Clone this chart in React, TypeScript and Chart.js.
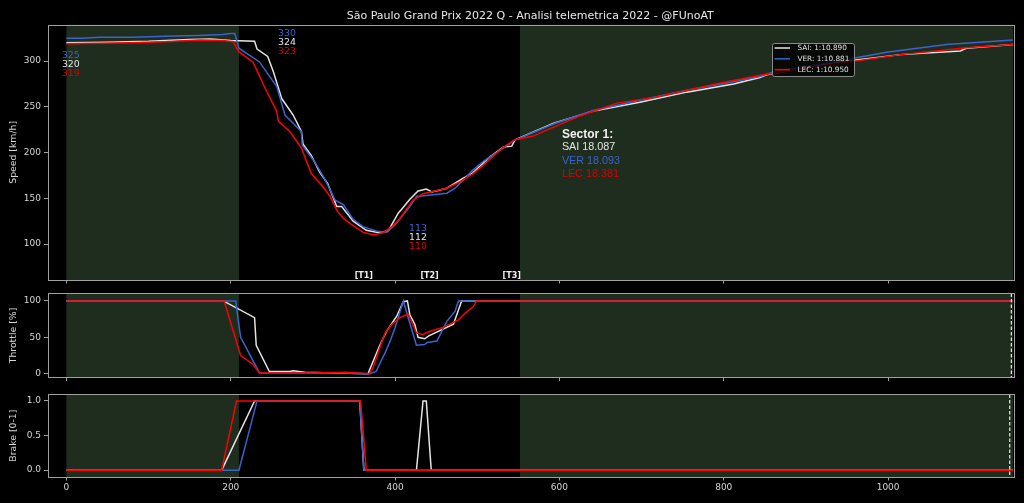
import React, { useEffect, useRef } from 'react';
import { Chart, registerables } from 'chart.js';
Chart.register(...registerables);

// ---------------- data ----------------
const drivers = ['SAI', 'VER', 'LEC'];
const lapTimes = ['1:10.890', '1:10.881', '1:10.950'];
const sector1Times = ['18.087', '18.093', '18.381'];
const titleText = 'São Paulo Grand Prix 2022 Q - Analisi telemetrica 2022 - @FUnoAT';
const sectorTitle = 'Sector 1:';
const cornerLabels = ['[T1]', '[T2]', '[T3]'];
const cornerDistances = [362, 442, 542];
const labelOrder = ['VER', 'SAI', 'LEC'];
const startSpeedLabels = [325, 320, 319];
const maxSpeedLabels = [330, 324, 323];
const minSpeedLabels = [113, 112, 110];
const shadedSectors = [[0, 210], [552, 1152]];
const lapEndDistances = [1150, 1148];
const xTicks = [0, 200, 400, 600, 800, 1000];
const speedTicks = [100, 150, 200, 250, 300];
const throttleTicks = [0, 50, 100];
const brakeTicks = [0, 0.5, 1];
const yLabels = ['Speed [km/h]', 'Throttle [%]', 'Brake [0-1]'];

const saiSpeed = [[0,320],[50,320.5],[100,321.5],[150,323.5],[175,324],[200,322.5],[229,321.5],[232,313],[245,305],[252,288],[262,259],[276,241],[286,223],[288,209],[298,197],[308,179],[318,166],[329,141],[335,141],[349,125],[365,115],[382,112],[392,115],[404,134],[408,138],[418,149],[428,158],[438,160],[445,157],[463,161],[483,172],[495,178],[515,195],[532,206],[542,207],[546,214],[593,232],[640,245],[698,255],[755,266],[812,275],[844,282],[852,285],[933,298],[1015,307],[1088,311],[1095,314],[1152,318]];
const verSpeed = [[0,325],[20,325],[40,326],[80,326],[120,327],[160,328],[190,329],[200,330],[205,330],[210,314],[235,299],[256,272],[266,241],[286,223],[287,208],[302,190],[315,170],[327,148],[337,143],[349,127],[361,119],[378,114],[390,113],[400,121],[418,141],[426,152],[438,153],[463,155.5],[473,161],[495,181],[507,190],[532,205],[546,214],[552,216],[595,232],[641,246],[702,258],[755,268],[804,276],[844,283],[860,288],[933,299],[998,309.5],[1071,318],[1152,323]];
const lecSpeed = [[0,319],[40,319.5],[80,320],[120,321],[163,323],[190,322.5],[203,321],[210,310],[227,299],[242,270],[256,245],[258,234],[272,223],[286,205],[298,177],[311,164],[321,152],[329,137],[337,128],[349,120],[361,113],[374,110],[386,112.5],[396,119],[406,128],[422,148],[434,155],[463,161],[479,168],[495,177],[507,186],[532,206],[546,214],[568,218],[583,224],[625,240],[670,254],[714,260],[796,276],[848,285],[933,296.5],[1015,307],[1095,314.5],[1152,318]];

const saiThrottle = [[0,100],[191,100],[229,77],[231,39],[247,3],[272,3],[276,4],[290,2],[330,1],[367,0],[381,38],[390,59],[402,79],[410,99],[415,100],[418,81],[424,68],[428,50],[436,48],[441,52],[471,68],[481,100],[1152,100]];
const verThrottle = [[0,100],[206,100],[212,50],[235,1],[280,1],[330,1],[369,0],[377,3],[384,20],[388,29],[394,45],[400,63],[410,100],[416,77],[426,39],[436,40],[439,43],[451,45],[463,72],[473,86],[477,100],[1152,100]];
const lecThrottle = [[0,100],[192,100],[212,25],[227,13],[235,1],[300,1],[340,2],[369,0],[373,8],[382,38],[388,56],[396,68],[406,77],[416,82],[426,56],[434,54],[442,58],[459,64],[477,74],[485,83],[495,92],[499,100],[1152,100]];

const saiBrake = [[0,0],[189,0],[229,1],[357,1],[362,0],[426,0],[434,1],[438,1],[444,0],[1152,0]];
const verBrake = [[0,0],[210,0],[232,1],[357,1],[362,0],[1152,0]];
const lecBrake = [[0,0],[189,0],[207,1],[358,1],[365,0],[1152,0]];

// ---------------- styles ----------------
const FONT = 'DejaVu Sans';
const SANS = 'Liberation Sans';
const TEXT = '#d6d6d6';
const FRAME = '#a0a0a0';
const GREEN = '#1e2d1e';
const LINE_COL: Record<string, string> = { SAI: '#e4e4e4', VER: '#3a64cc', LEC: '#ff0000' };
const TXT_COL: Record<string, string> = { SAI: '#e4e4e4', VER: '#3a64cc', LEC: '#dd0000' };
const X_MIN = -23;
const X_MAX = 1152;

const toPts = (arr: number[][]) => arr.map(([x, y]) => ({ x, y }));

function datasets(sai: number[][], ver: number[][], lec: number[][]) {
  const series: Record<string, number[][]> = { SAI: sai, VER: ver, LEC: lec };
  return drivers.map((d, i) => ({
    label: d,
    data: toPts(series[d]),
    borderColor: LINE_COL[d],
    borderWidth: 1.5,
    pointRadius: 0,
    tension: 0,
    fill: false,
    order: 3 - i,
  }));
}

function makePanelPlugin(idx: number, dashed: number | null) {
  return {
    id: 'panel' + idx,
    beforeDatasetsDraw(chart: any) {
      const { ctx, chartArea: a, scales } = chart;
      const x = scales.x;
      ctx.save();
      ctx.fillStyle = GREEN;
      shadedSectors.forEach(([s, e]) => {
        const x0 = Math.max(a.left, x.getPixelForValue(s));
        const x1 = Math.min(a.right, x.getPixelForValue(e));
        ctx.fillRect(x0, a.top, x1 - x0, a.bottom - a.top);
      });
      ctx.restore();
    },
    afterDatasetsDraw(chart: any) {
      const { ctx, chartArea: a, scales } = chart;
      if (dashed !== null) {
        const px = scales.x.getPixelForValue(dashed);
        ctx.save();
        ctx.strokeStyle = '#e8e8e8';
        ctx.lineWidth = 1.2;
        ctx.setLineDash([3.5, 2]);
        ctx.beginPath();
        ctx.moveTo(px, a.top);
        ctx.lineTo(px, a.bottom);
        ctx.stroke();
        ctx.restore();
      }
    },
    afterDraw(chart: any) {
      const { ctx, chartArea: a } = chart;
      ctx.save();
      ctx.strokeStyle = FRAME;
      ctx.lineWidth = 1;
      ctx.strokeRect(Math.round(a.left) + 0.5, Math.round(a.top) + 0.5, Math.round(a.right - a.left), Math.round(a.bottom - a.top));
      // y axis label
      ctx.fillStyle = TEXT;
      ctx.font = `9.3px "${FONT}"`;
      ctx.textAlign = 'center';
      ctx.textBaseline = 'middle';
      ctx.translate(13.5, (a.top + a.bottom) / 2);
      ctx.rotate(-Math.PI / 2);
      ctx.fillText(yLabels[idx], 0, 0);
      ctx.restore();
    },
  };
}

const speedTextPlugin = {
  id: 'speedText',
  afterDatasetsDraw(chart: any) {
    const { ctx, chartArea: a, scales } = chart;
    const x = scales.x;
    const y = scales.y;
    ctx.save();
    // title
    ctx.fillStyle = '#e8e8e8';
    ctx.font = `11px "${FONT}"`;
    ctx.textAlign = 'center';
    ctx.textBaseline = 'alphabetic';
    ctx.fillText(titleText, (a.left + a.right) / 2, 19);

    // speed value groups
    const groups: [number[], number, number][] = [
      [startSpeedLabels, -5.5, 305.5],
      [maxSpeedLabels, 257.5, 329.5],
      [minSpeedLabels, 417, 116.4],
    ];
    ctx.font = `9.4px "${FONT}"`;
    ctx.textAlign = 'left';
    ctx.textBaseline = 'middle';
    groups.forEach(([vals, dx, sy]) => {
      const px = x.getPixelForValue(dx);
      const py = y.getPixelForValue(sy);
      vals.forEach((v, i) => {
        ctx.fillStyle = TXT_COL[labelOrder[i]];
        ctx.fillText(String(v), px, py + i * 9);
      });
    });

    // corner labels
    ctx.font = `bold 8px "${FONT}"`;
    ctx.textAlign = 'center';
    ctx.textBaseline = 'alphabetic';
    ctx.fillStyle = '#f0f0f0';
    cornerLabels.forEach((t, i) => {
      ctx.fillText(t, x.getPixelForValue(cornerDistances[i]), a.bottom - 2);
    });

    // sector text
    const sx = x.getPixelForValue(603);
    const sy0 = y.getPixelForValue(220);
    ctx.textAlign = 'left';
    ctx.textBaseline = 'middle';
    ctx.fillStyle = '#f0f0f0';
    ctx.font = `bold 12px "${SANS}"`;
    ctx.fillText(sectorTitle, sx, sy0);
    ctx.font = `10.8px "${SANS}"`;
    drivers.forEach((d, i) => {
      ctx.fillStyle = TXT_COL[d];
      ctx.fillText(`${d} ${sector1Times[i]}`, sx, sy0 + 13 + i * 13.5);
    });

    // legend
    const lx = a.left + 0.7504 * (a.right - a.left);
    const ly = a.top + 0.0717 * (a.bottom - a.top);
    const lw = 82;
    const lh = 33;
    ctx.fillStyle = 'rgba(0,0,0,0.8)';
    ctx.strokeStyle = '#8a8a8a';
    ctx.lineWidth = 1;
    ctx.beginPath();
    if ((ctx as any).roundRect) (ctx as any).roundRect(lx + 0.5, ly + 0.5, lw, lh, 2);
    else ctx.rect(lx + 0.5, ly + 0.5, lw, lh);
    ctx.fill();
    ctx.stroke();
    ctx.font = `7.3px "${FONT}"`;
    ctx.textBaseline = 'middle';
    drivers.forEach((d, i) => {
      const ry = ly + 5 + i * 10.8;
      ctx.strokeStyle = LINE_COL[d];
      ctx.lineWidth = 1.5;
      ctx.beginPath();
      ctx.moveTo(lx + 2.5, ry);
      ctx.lineTo(lx + 18, ry);
      ctx.stroke();
      ctx.fillStyle = '#e0e0e0';
      ctx.fillText(`${d}: ${lapTimes[i]}`, lx + 25.5, ry);
    });
    ctx.restore();
  },
};

function options(yMin: number, yMax: number, yTicks: number[], fmt: (v: number) => string, showX: boolean, xH: number, padTop: number) {
  return {
    animation: false,
    responsive: false,
    maintainAspectRatio: false,
    layout: { padding: { left: 0, right: 11, top: padTop, bottom: 0 } },
    plugins: { legend: { display: false }, tooltip: { enabled: false }, title: { display: false } },
    scales: {
      x: {
        type: 'linear',
        min: X_MIN,
        max: X_MAX,
        afterBuildTicks: (s: any) => { s.ticks = xTicks.map((v) => ({ value: v })); },
        afterFit: (s: any) => { s.height = xH; },
        grid: { display: true, drawOnChartArea: false, drawTicks: true, tickLength: 3.5, color: FRAME, lineWidth: 1 },
        border: { display: false },
        ticks: { display: showX, color: TEXT, font: { size: 9, family: FONT }, padding: 2, maxRotation: 0, autoSkip: false, callback: (v: number) => String(v) },
      },
      y: {
        type: 'linear',
        min: yMin,
        max: yMax,
        afterBuildTicks: (s: any) => { s.ticks = yTicks.map((v) => ({ value: v })); },
        afterFit: (s: any) => { s.width = 47.5; },
        grid: { display: true, drawOnChartArea: false, drawTicks: true, tickLength: 3.5, color: FRAME, lineWidth: 1 },
        border: { display: false },
        ticks: { color: TEXT, font: { size: 9, family: FONT }, padding: 3, callback: (v: number) => fmt(v) },
      },
    },
  };
}

export default function App() {
  const r1 = useRef<HTMLCanvasElement>(null);
  const r2 = useRef<HTMLCanvasElement>(null);
  const r3 = useRef<HTMLCanvasElement>(null);

  useEffect(() => {
    Chart.defaults.font.family = FONT;
    const c1 = new Chart(r1.current!, {
      type: 'line',
      data: { datasets: datasets(saiSpeed, verSpeed, lecSpeed) as any },
      options: options(60.7, 339.7, speedTicks, (v) => String(v), false, 10, 24.7) as any,
      plugins: [makePanelPlugin(0, null), speedTextPlugin] as any,
    });
    const c2 = new Chart(r2.current!, {
      type: 'line',
      data: { datasets: datasets(saiThrottle, verThrottle, lecThrottle) as any },
      options: options(-5.4, 110.4, throttleTicks, (v) => String(v), false, 7, 8.3) as any,
      plugins: [makePanelPlugin(1, lapEndDistances[0])] as any,
    });
    const c3 = new Chart(r3.current!, {
      type: 'line',
      data: { datasets: datasets(saiBrake, verBrake, lecBrake) as any },
      options: options(-0.099, 1.094, brakeTicks, (v) => v.toFixed(1), true, 26, 6.3) as any,
      plugins: [makePanelPlugin(2, lapEndDistances[1])] as any,
    });
    return () => { c1.destroy(); c2.destroy(); c3.destroy(); };
  }, []);

  return (
    <div style={{ position: 'fixed', left: 0, top: 0, width: 1024, height: 503, background: '#000', overflow: 'hidden' }}>
      <canvas ref={r1} width={1024} height={290} style={{ position: 'absolute', left: 0, top: 0, width: 1024, height: 290 }} />
      <canvas ref={r2} width={1024} height={101} style={{ position: 'absolute', left: 0, top: 285, width: 1024, height: 101 }} />
      <canvas ref={r3} width={1024} height={117} style={{ position: 'absolute', left: 0, top: 386, width: 1024, height: 117 }} />
    </div>
  );
}
